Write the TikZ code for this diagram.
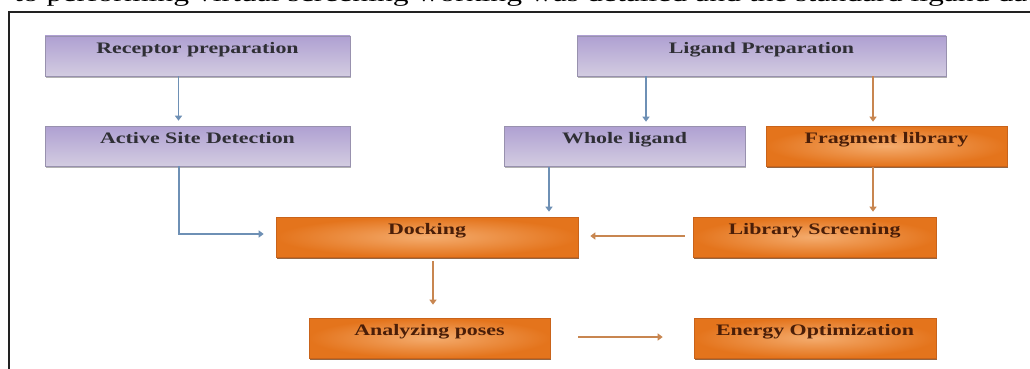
\documentclass[tikz,border=0pt]{standalone}
\usepackage{fontspec}
\setmainfont{Liberation Serif}
\usetikzlibrary{shadows,arrows.meta}
\definecolor{purtop}{HTML}{AFA0D2}
\definecolor{purmid}{HTML}{EEE9F5}
\definecolor{purbot}{HTML}{D3CCE1}
\definecolor{purline}{HTML}{9891AE}
\definecolor{orout}{HTML}{E4741C}
\definecolor{orin}{HTML}{F4AC6E}
\definecolor{orline}{HTML}{C9631A}
\definecolor{orshadow}{HTML}{7A4015}
\definecolor{purtext}{HTML}{2F2F35}
\definecolor{ortext}{HTML}{4A1E08}
\definecolor{bluearrow}{HTML}{6E90B5}
\definecolor{orarrow}{HTML}{C88650}
\definecolor{framecol}{HTML}{222222}
\newcommand{\bxt}[1]{\scalebox{1.37}[1]{#1}}
\tikzset{
  basebox/.style={rectangle, inner sep=0pt, minimum height=40pt,
    text height=17.5pt, text depth=22.5pt,
    font=\fontsize{16}{18}\selectfont\bfseries},
  purbox/.style={basebox, top color=purtop, middle color=purmid, bottom color=purbot,
    draw=purline, line width=0.6pt, text=purtext,
    drop shadow={shadow xshift=1pt, shadow yshift=-1.5pt, fill=gray, opacity=0.6}},
  orbox/.style={basebox, inner color=orin, outer color=orout,
    draw=orline, line width=0.6pt, text=ortext,
    drop shadow={shadow xshift=1.2pt, shadow yshift=-2pt, fill=orshadow, opacity=0.8}},
  bluearr/.style={draw=bluearrow, line width=1.2pt, -{Triangle[width=7pt,length=5pt]}},
  orarr/.style={draw=orarrow, line width=1.2pt, -{Triangle[width=7pt,length=5pt]}},
}
\begin{document}
\begin{tikzpicture}[x=1pt,y=-1pt]
\useasboundingbox (0,0) rectangle (1030,369);
\fill[white] (0,0) rectangle (1030,369);
% cut-off line of text above the frame
\begin{scope}
\clip (0,0) rectangle (1030,11);
\node[anchor=base west, inner sep=0pt, font=\fontsize{22.6}{26}\selectfont] (toptext) at (14,1.5)
  {\scalebox{1.4}[1]{to performing virtual screening working was detailed and the standard ligand database}};
\end{scope}
% frame
\draw[framecol, line width=2pt] (1030,12) -- (9,12) -- (9,369);
% boxes
\node[purbox, minimum width=305pt] (rp) at (197.5,56) {\bxt{Receptor preparation}};
\node[purbox, minimum width=369pt] (lp) at (761.5,56) {\bxt{Ligand Preparation}};
\node[purbox, minimum width=305pt] (as) at (197.5,146) {\bxt{Active Site Detection}};
\node[purbox, minimum width=241pt] (wl) at (624.5,146) {\bxt{Whole ligand}};
\node[orbox, minimum width=241pt] (fl) at (886.5,146) {\bxt{Fragment library}};
\node[orbox, minimum width=302pt] (dk) at (427,237) {\bxt{Docking}};
\node[orbox, minimum width=243pt] (ls) at (814.5,237) {\bxt{Library Screening}};
\node[orbox, minimum width=241pt] (ap) at (429.5,338) {\bxt{Analyzing poses}};
\node[orbox, minimum width=242pt] (eo) at (815,338) {\bxt{Energy Optimization}};
% connectors
\draw[bluearr, shorten >=5pt] ([xshift=-19pt]rp.south) -- ([xshift=-19pt]rp.south |- as.north);
\draw[bluearr, shorten >=12pt] ([xshift=-18.5pt]as.south) |- ([yshift=3pt]dk.west);
\draw[bluearr, shorten >=4pt] ([xshift=-115.5pt]lp.south) -- ([xshift=-115.5pt]lp.south |- wl.north);
\draw[orarr, shorten >=4pt] ([xshift=111.5pt]lp.south) -- ([xshift=111.5pt]lp.south |- fl.north);
\draw[bluearr, shorten <=1pt, shorten >=5pt] ([xshift=-75.5pt]wl.south) -- ([xshift=-75.5pt]wl.south |- dk.north);
\draw[orarr, shorten <=1pt, shorten >=5pt] ([xshift=-13.5pt]fl.south) -- ([xshift=-13.5pt]fl.south |- ls.north);
\draw[orarr, shorten <=8pt, shorten >=12pt] ([yshift=1pt]ls.west) -- ([yshift=1pt]ls.west -| dk.east);
\draw[orarr, shorten <=4pt, shorten >=13pt] ([xshift=6pt]dk.south) -- ([xshift=6pt]dk.south |- ap.north);
\draw[orarr, shorten <=28pt, shorten >=31pt] ([yshift=1pt]ap.east) -- ([yshift=1pt]ap.east -| eo.west);
\end{tikzpicture}
\end{document}
